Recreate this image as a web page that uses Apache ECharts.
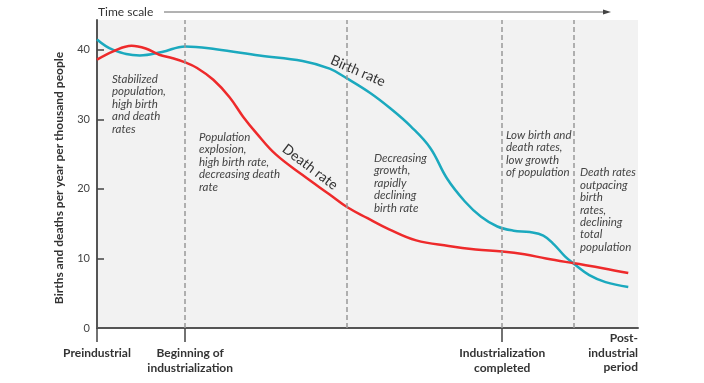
<!DOCTYPE html>
<html><head><meta charset="utf-8">
<script src="https://cdn.jsdelivr.net/npm/echarts@6/dist/echarts.min.js"></script>
<style>html,body{margin:0;padding:0;background:#fff}#c{width:704px;height:383px}</style>
</head><body><div id="c"></div>
<script>
// Time axis runs 0 (preindustrial) .. 100 (end of post-industrial period)
const birthX = [0, 3, 7.9, 12, 16.3, 22, 30, 38, 43, 46.2, 50.5, 54.2, 58, 61.6, 64.7, 68, 71, 74, 77, 80, 82.5, 84.5, 86.5, 88.2, 91, 94, 98.2];
const birthY = [41.5, 40.0, 39.2, 39.7, 40.5, 40.1, 39.2, 38.4, 37.3, 35.9, 33.8, 31.6, 29.0, 25.9, 21.5, 18.2, 16.0, 14.6, 14.0, 13.8, 13.3, 12.0, 10.3, 9.2, 7.6, 6.6, 5.9];
const deathX = [0, 3, 6.4, 9, 11.5, 14, 16.3, 18.5, 21.5, 24.5, 27, 29.5, 33, 38, 43, 46.2, 50, 54, 59, 65, 70, 74.9, 79, 83, 88.2, 93.5, 98.2];
const deathY = [38.6, 39.8, 40.6, 40.2, 39.3, 38.8, 38.2, 37.4, 35.7, 33.2, 30.4, 28.0, 25.0, 22.0, 19.2, 17.4, 15.8, 14.2, 12.6, 11.8, 11.3, 11.0, 10.6, 10.0, 9.3, 8.6, 7.9];
const stageBounds = [16.3, 46.2, 74.9, 88.2];
const stageNames = ['Stage 1', 'Stage 2', 'Stage 3', 'Stage 4', 'Stage 5'];
const stageLabelX = [7.4, 29.2, 58.7, 81.3, 94.5];
const yTicks = [0, 10, 20, 30, 40];
const xMilestones = [0, 16.3, 74.9];
const xMilestoneLabels = ['Preindustrial', 'Beginning of\nindustrialization', 'Industrialization\ncompleted'];

const FONT = 'Lato, "Noto Sans", sans-serif';
const chart = echarts.init(document.getElementById('c'), null, {renderer: 'canvas'});
const zip = (xs, ys) => xs.map((x, i) => [x, ys[i]]);

chart.setOption({
  animation: false,
  grid: {left: 97, right: 66, top: 20, bottom: 55, show: true, backgroundColor: '#f2f2f2', borderWidth: 0},
  xAxis: {
    type: 'value', min: 0, max: 100,
    splitLine: {show: false},
    axisLine: {show: true, onZero: false, lineStyle: {color: '#555', width: 2}},
    axisTick: {show: true, customValues: xMilestones, length: 14, lineStyle: {color: '#444', width: 1.5}},
    axisLabel: {
      show: true, customValues: xMilestones, margin: 18,
      formatter: v => {
        const i = xMilestones.indexOf(v);
        if (i < 0) return '';
        return i === 1 ? '{s|' + xMilestoneLabels[i].split('\n').join('}\n{s|') + '}' : xMilestoneLabels[i];
      },
      rich: {s: {fontFamily: FONT, fontWeight: 'bold', fontSize: 12, color: '#333', lineHeight: 14.5, padding: [0, 0, 0, 10]}},
      fontFamily: FONT, fontWeight: 'bold', fontSize: 12, color: '#333', lineHeight: 14.5, verticalAlign: 'top'
    }
  },
  yAxis: {
    type: 'value', min: 0, max: 44.3,
    splitLine: {show: false},
    axisLine: {show: true, lineStyle: {color: '#555', width: 2}},
    axisTick: {show: true, inside: true, customValues: yTicks.slice(1), length: 7, lineStyle: {color: '#444', width: 1.5}},
    axisLabel: {show: true, customValues: yTicks, margin: 7, fontFamily: FONT, fontSize: 11, color: '#444'}
  },
  series: [
    {
      type: 'scatter', z: 1, silent: true, symbolSize: 1,
      itemStyle: {opacity: 0},
      data: stageNames.map((n, i) => ({name: n, value: [stageLabelX[i], 2.0]})),
      label: {show: true, position: 'inside', formatter: p => p.name, fontFamily: FONT, fontStyle: 'italic', fontSize: 13, color: '#444'},
      markLine: {
        silent: true, symbol: ['none', 'none'], label: {show: false},
        lineStyle: {type: [5, 3], color: '#999', width: 1.5},
        data: stageBounds.map(b => ({xAxis: b}))
      }
    },
    {
      name: 'Birth rate', type: 'line', z: 3, smooth: 0.4, symbol: 'none',
      lineStyle: {color: '#1ba9be', width: 2.5},
      data: zip(birthX, birthY)
    },
    {
      name: 'Death rate', type: 'line', z: 4, smooth: 0.4, symbol: 'none',
      lineStyle: {color: '#ee2a2b', width: 2.5},
      data: zip(deathX, deathY)
    }
  ],
  graphic: [
    {type: 'text', x: 98, y: 12.5, style: {text: 'Time scale', font: '12px ' + FONT, fill: '#333', textVerticalAlign: 'middle'}},
    {type: 'line', shape: {x1: 164, y1: 12, x2: 606, y2: 12}, style: {stroke: '#666', lineWidth: 1}},
    {type: 'polygon', shape: {points: [[603, 9.5], [611, 12], [603, 14.5]]}, style: {fill: '#444'}},
    {type: 'text', x: 59, y: 178, rotation: Math.PI / 2,
      style: {text: 'Births and deaths per year per thousand people', font: 'bold 12px ' + FONT, fill: '#333', textAlign: 'center', textVerticalAlign: 'middle'}},
    {type: 'text', x: 638, y: 331, style: {text: 'Post-\nindustrial\nperiod', font: 'bold 12px ' + FONT, fill: '#333', textAlign: 'right', textVerticalAlign: 'top', lineHeight: 14.5}},
    {type: 'text', x: 112, y: 73, style: {text: 'Stabilized\npopulation,\nhigh birth\nand death\nrates', font: 'italic 11.5px ' + FONT, fill: '#444', lineHeight: 12.5, textVerticalAlign: 'top'}},
    {type: 'text', x: 199, y: 131, style: {text: 'Population\nexplosion,\nhigh birth rate,\ndecreasing death\nrate', font: 'italic 11.5px ' + FONT, fill: '#444', lineHeight: 12.5, textVerticalAlign: 'top'}},
    {type: 'text', x: 374, y: 152, style: {text: 'Decreasing\ngrowth,\nrapidly\ndeclining\nbirth rate', font: 'italic 11.5px ' + FONT, fill: '#444', lineHeight: 12.5, textVerticalAlign: 'top'}},
    {type: 'text', x: 506, y: 129, style: {text: 'Low birth and\ndeath rates,\nlow growth\nof population', font: 'italic 11.5px ' + FONT, fill: '#444', lineHeight: 12.5, textVerticalAlign: 'top'}},
    {type: 'text', x: 580, y: 166.5, style: {text: 'Death rates\noutpacing\nbirth\nrates,\ndeclining\ntotal\npopulation', font: 'italic 11.5px ' + FONT, fill: '#444', lineHeight: 12.4, textVerticalAlign: 'top'}},
    {type: 'text', x: 358, y: 71, rotation: -0.41, style: {text: 'Birth rate', font: '14px ' + FONT, fill: '#333', textAlign: 'center', textVerticalAlign: 'middle'}},
    {type: 'text', x: 310, y: 167, rotation: -0.65, style: {text: 'Death rate', font: '14px ' + FONT, fill: '#333', textAlign: 'center', textVerticalAlign: 'middle'}}
  ]
});
</script>
</body></html>
